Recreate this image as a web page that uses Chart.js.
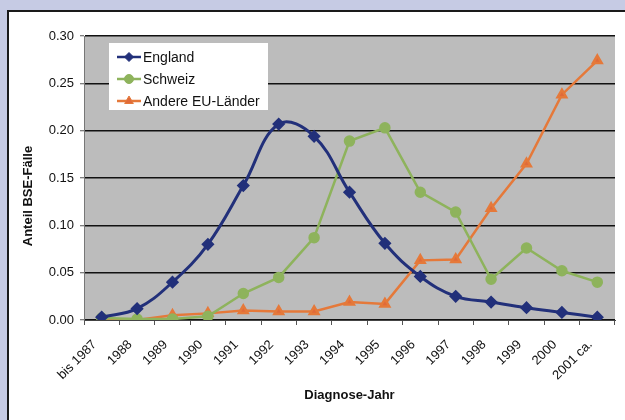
<!DOCTYPE html>
<html>
<head>
<meta charset="utf-8">
<script src="https://cdn.jsdelivr.net/npm/chart.js@4"></script>
<style>
    html, body { margin: 0; padding: 0; }
    body { width: 625px; height: 420px; background: #c6cbe4; overflow: hidden; position: relative; }
    #frame { position: absolute; left: 7px; top: 10px; width: 640px; height: 440px; background: #fff; border: 2px solid #1a1a1a; }
    #wrap { position: absolute; left: 0; top: 0; width: 625px; height: 420px; }
</style>
</head>
<body>
<div id="frame"></div>
<div id="wrap"><canvas id="bseChart" width="625" height="420"></canvas></div>
<script>
// Categories and series (share of BSE cases)
const years = ['bis 1987', '1988', '1989', '1990', '1991', '1992', '1993', '1994', '1995', '1996', '1997', '1998', '1999', '2000', '2001 ca.'];
const england = [0.003, 0.012, 0.040, 0.080, 0.142, 0.207, 0.194, 0.135, 0.081, 0.046, 0.025, 0.019, 0.013, 0.008, 0.003];
const schweiz = [0.002, 0.001, 0.001, 0.004, 0.028, 0.045, 0.087, 0.189, 0.203, 0.135, 0.114, 0.043, 0.076, 0.052, 0.040];
const andereEU = [0.000, 0.000, 0.005, 0.007, 0.010, 0.009, 0.009, 0.019, 0.017, 0.063, 0.064, 0.118, 0.165, 0.238, 0.274];
const yTicks = [0, 0.05, 0.10, 0.15, 0.20, 0.25, 0.30];

const fontFamily = '"Liberation Sans", Arial, sans-serif';

// Gray plot background
const plotBackground = {
    id: 'plotBackground',
    beforeDraw(chart) {
        const { ctx, chartArea: a } = chart;
        ctx.save();
        ctx.fillStyle = '#bcbcbc';
        ctx.fillRect(a.left, a.top, a.right - a.left, a.bottom - a.top);
        ctx.restore();
    }
};

// Legend drawn inside the plot area (white box, top left)
const insideLegend = {
    id: 'insideLegend',
    afterDraw(chart) {
        const { ctx, chartArea: a } = chart;
        const x = a.left + 25, y = a.top + 7;
        ctx.save();
        ctx.fillStyle = '#ffffff';
        ctx.fillRect(x, y, 159, 67);
        ctx.font = '14px ' + fontFamily;
        ctx.textBaseline = 'middle';
        chart.data.datasets.forEach((ds, i) => {
            const ly = y + 14 + i * 22;
            ctx.strokeStyle = ds.borderColor;
            ctx.lineWidth = 2.5;
            ctx.beginPath();
            ctx.moveTo(x + 8, ly);
            ctx.lineTo(x + 32, ly);
            ctx.stroke();
            ctx.fillStyle = ds.backgroundColor;
            ctx.lineWidth = 1;
            Chart.helpers.drawPoint(ctx, { pointStyle: ds.pointStyle, radius: ds.pointRadius, borderWidth: 1 }, x + 20, ly);
            ctx.fillStyle = '#111';
            ctx.fillText(ds.label, x + 34, ly + 1);
        });
        ctx.restore();
    }
};

const ctx = document.getElementById('bseChart').getContext('2d');
new Chart(ctx, {
    type: 'line',
    data: {
        labels: years,
        datasets: [
            {
                label: 'England',
                data: england,
                borderColor: '#22307a',
                backgroundColor: '#22307a',
                borderWidth: 3,
                pointStyle: 'rectRot',
                pointRadius: 4.5,
                tension: 0.4,
            },
            {
                label: 'Schweiz',
                data: schweiz,
                borderColor: '#8eb35c',
                backgroundColor: '#8eb35c',
                borderWidth: 2.5,
                pointStyle: 'circle',
                pointRadius: 4.5,
                tension: 0,
            },
            {
                label: 'Andere EU-Länder',
                data: andereEU,
                borderColor: '#e5793a',
                backgroundColor: '#e06a3a',
                borderWidth: 2.5,
                pointStyle: 'triangle',
                pointRadius: 5,
                tension: 0,
            },
        ],
    },
    options: {
        responsive: false,
        animation: false,
        layout: {
            padding: { top: 36, right: 10, left: 0, bottom: 0 },
        },
        scales: {
            x: {
                offset: true,
                afterFit: (scale) => { scale.height = 100; },
                grid: {
                    offset: true,
                    drawOnChartArea: false,
                    drawTicks: true,
                    tickLength: 5,
                    color: '#555',
                },
                border: { color: '#444', width: 1 },
                ticks: {
                    maxRotation: 45,
                    minRotation: 45,
                    padding: 12,
                    labelOffset: -7,
                    color: '#111',
                    font: { family: fontFamily, size: 13 },
                },
                title: {
                    display: true,
                    text: 'Diagnose-Jahr',
                    color: '#111',
                    padding: { top: 0, bottom: 17 },
                    font: { family: fontFamily, size: 13, weight: 'bold' },
                },
            },
            y: {
                min: 0,
                max: 0.30,
                afterFit: (scale) => { scale.width = 84; },
                afterBuildTicks: (scale) => { scale.ticks = yTicks.map(v => ({ value: v })); },
                grid: {
                    color: '#111',
                    lineWidth: 1.5,
                    tickLength: 4,
                    tickColor: '#555',
                    tickWidth: 1,
                },
                border: { color: '#777', width: 1 },
                ticks: {
                    padding: 6,
                    color: '#111',
                    callback: (v) => v.toFixed(2),
                    font: { family: fontFamily, size: 13 },
                },
                title: {
                    display: true,
                    text: 'Anteil BSE-Fälle          ',
                    color: '#111',
                    padding: { top: 21, bottom: 0 },
                    font: { family: fontFamily, size: 13, weight: 'bold' },
                },
            },
        },
        plugins: {
            legend: { display: false },
            tooltip: { enabled: false },
        },
    },
    plugins: [plotBackground, insideLegend],
});
</script>
</body>
</html>
